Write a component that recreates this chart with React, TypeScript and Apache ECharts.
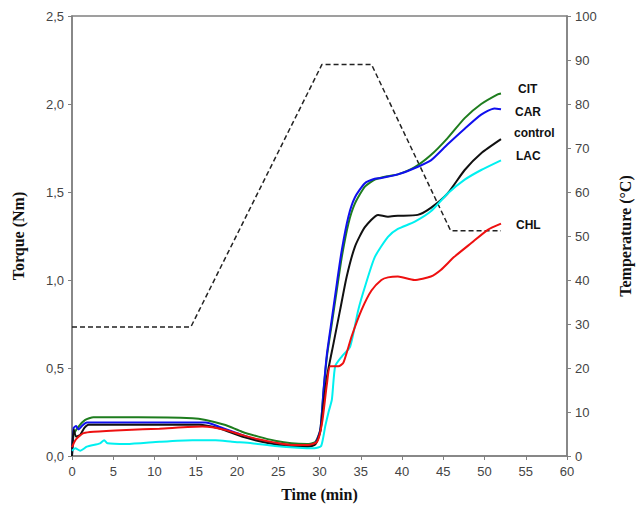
import React, { useEffect, useRef } from "react";
import * as echarts from "echarts";

// [time (min), torque (Nm)]
const CIT: [number, number][] = [
  [0, 0], [0.2, 0.12], [0.8, 0.167], [1.6, 0.205], [2.6, 0.22], [8, 0.22], [14.6, 0.215],
  [16.2, 0.205], [18.6, 0.176], [20.6, 0.138], [22.6, 0.11], [24.6, 0.087], [26.6, 0.072],
  [28.5, 0.068], [29.5, 0.08], [30.1, 0.15], [30.5, 0.375], [30.9, 0.565], [31.5, 0.754],
  [32.1, 0.943], [32.7, 1.13], [33.5, 1.32], [34.3, 1.435], [35.5, 1.53], [36.7, 1.57],
  [38.3, 1.59], [39.5, 1.6], [41.5, 1.64], [43.5, 1.71], [45.5, 1.805], [47.6, 1.92],
  [49.6, 2.0], [51.6, 2.055], [52, 2.06],
];
const CAR: [number, number][] = [
  [0, 0], [0.2, 0.16], [0.5, 0.17], [0.8, 0.15], [1.2, 0.17], [1.8, 0.19], [8, 0.19],
  [16.2, 0.19], [17.8, 0.167], [20.6, 0.12], [22.6, 0.09], [24.6, 0.072], [26.6, 0.059],
  [28.3, 0.057], [29.5, 0.074], [30.1, 0.15], [30.5, 0.38], [30.9, 0.58], [31.5, 0.78],
  [32.1, 0.98], [32.7, 1.17], [33.5, 1.36], [34.3, 1.47], [35.5, 1.55], [36.7, 1.575],
  [37.5, 1.58], [39.5, 1.6], [41.5, 1.635], [43.5, 1.68], [45.5, 1.77], [47.6, 1.86],
  [49.6, 1.94], [51.2, 1.975], [52, 1.97],
];
const CONTROL: [number, number][] = [
  [0, 0], [0.2, 0.15], [0.5, 0.11], [1.0, 0.12], [1.5, 0.16], [2.0, 0.178], [15.4, 0.178],
  [17.8, 0.157], [20.6, 0.11], [22.6, 0.085], [24.6, 0.066], [26.6, 0.053], [28.6, 0.053],
  [29.5, 0.066], [30.1, 0.14], [30.5, 0.3], [30.9, 0.45], [31.7, 0.64], [32.5, 0.83],
  [33.3, 1.02], [34.3, 1.19], [35.5, 1.3], [37.1, 1.37], [38.3, 1.36], [39.5, 1.365],
  [41.9, 1.37], [43.5, 1.41], [45.5, 1.49], [47.6, 1.625], [49.6, 1.72], [52, 1.8],
];
const LAC: [number, number][] = [
  [0, 0.03], [0.4, 0.044], [1.0, 0.03], [1.8, 0.053], [3.4, 0.072], [3.9, 0.09], [4.3, 0.072],
  [6.6, 0.068], [10.6, 0.081], [14.6, 0.09], [17.4, 0.09], [19.4, 0.081], [21.8, 0.072],
  [24.6, 0.057], [27.4, 0.047], [29.4, 0.044], [30.2, 0.057], [30.7, 0.17], [31.1, 0.25],
  [31.5, 0.32], [31.9, 0.51], [32.7, 0.565], [33.7, 0.62], [34.7, 0.83], [35.5, 0.96],
  [36.7, 1.13], [38.3, 1.245], [39.5, 1.29], [41.5, 1.33], [43.5, 1.39], [45.5, 1.49],
  [47.6, 1.57], [49.6, 1.625], [52, 1.68],
];
const CHL: [number, number][] = [
  [0, 0.05], [0.4, 0.09], [0.8, 0.11], [1.4, 0.13], [2.6, 0.138], [6.6, 0.148], [10.6, 0.155],
  [15.8, 0.167], [17, 0.163], [18.6, 0.148], [20.6, 0.12], [22.6, 0.095], [24.6, 0.076],
  [26.6, 0.0625], [28.6, 0.0625], [29.7, 0.08], [30.3, 0.185], [30.9, 0.41], [31.3, 0.51],
  [32.3, 0.51], [32.9, 0.53], [33.9, 0.68], [35.1, 0.83], [36.3, 0.94], [37.5, 1.0],
  [38.3, 1.015], [39.5, 1.02], [41.5, 1.0], [43.5, 1.02], [44.7, 1.057], [46.3, 1.13],
  [48.4, 1.21], [50.4, 1.285], [52, 1.32],
];
// [time (min), temperature (°C)]
const TEMPERATURE: [number, number][] = [
  [0, 29.3], [14.4, 29.3], [30.3, 89], [36.3, 89], [45.9, 51.2], [52, 51.2],
];

const SERIES_NAMES = ["CIT", "CAR", "control", "LAC", "CHL"];
const SERIES_DATA = [CIT, CAR, CONTROL, LAC, CHL];
const SERIES_COLORS = ["#1e7d1e", "#1010ee", "#111111", "#00f0f0", "#ee1010"];
const LABEL_OFFSETS: [number, number][] = [[9, -4], [6, 3], [5, -6], [7, -4], [7, 1]];

const X_TICKS = { min: 0, max: 60, interval: 5 };
const TORQUE_TICKS = { min: 0, max: 2.5, interval: 0.5 };
const TEMP_TICKS = { min: 0, max: 100, interval: 10 };

export default function App() {
  const ref = useRef<HTMLDivElement>(null);
  useEffect(() => {
    if (!ref.current) return;
    const chart = echarts.init(ref.current, null, { renderer: "svg" });
    const axisLabel = { color: "#444", fontFamily: "Liberation Sans, Arial, sans-serif", fontSize: 13 };
    const axisLine = { show: true, lineStyle: { color: "#808080", width: 1.5 } };
    const axisTick = { show: true, length: 4, lineStyle: { color: "#808080" } };
    const nameStyle = {
      fontFamily: "Liberation Serif, Times New Roman, serif",
      fontWeight: "bold" as const,
      fontSize: 16,
      color: "#111",
    };
    chart.setOption({
      animation: false,
      backgroundColor: "#fff",
      grid: {
        left: 72, right: 71, top: 16, bottom: 55,
        show: true, borderColor: "#808080", borderWidth: 1.5,
      },
      xAxis: {
        type: "value", ...X_TICKS,
        name: "Time (min)", nameLocation: "middle", nameGap: 30, nameTextStyle: nameStyle,
        axisLine, axisTick, axisLabel: { ...axisLabel, margin: 9 }, splitLine: { show: false },
      },
      yAxis: [
        {
          type: "value", ...TORQUE_TICKS, position: "left",
          name: "Torque (Nm)", nameLocation: "middle", nameGap: 46, nameTextStyle: nameStyle,
          axisLine, axisTick,
          axisLabel: { ...axisLabel, margin: 8, formatter: (v: number) => v.toFixed(1).replace(".", ",") },
          splitLine: { show: false },
        },
        {
          type: "value", ...TEMP_TICKS, position: "right",
          name: "Temperature (°C)", nameLocation: "middle", nameGap: 50, nameRotate: 90,
          nameTextStyle: nameStyle,
          axisLine, axisTick, axisLabel: { ...axisLabel, margin: 8 }, splitLine: { show: false },
        },
      ],
      series: [
        {
          name: "Temperature", type: "line", yAxisIndex: 1, data: TEMPERATURE,
          symbol: "none", lineStyle: { color: "#222", width: 1.5, type: [5, 3] }, z: 1,
        },
        ...SERIES_NAMES.map((name, i) => ({
          name, type: "line", yAxisIndex: 0, data: SERIES_DATA[i],
          symbol: "none", smooth: 0.2,
          lineStyle: { color: SERIES_COLORS[i], width: 2 },
          endLabel: {
            show: true, formatter: name, offset: LABEL_OFFSETS[i],
            fontFamily: "Liberation Sans, Arial, sans-serif", fontWeight: "bold", fontSize: 12, color: "#111",
          },
          z: 2,
        })),
      ],
    });
    return () => chart.dispose();
  }, []);
  return <div ref={ref} style={{ width: 641, height: 511, position: "absolute", left: 0, top: 0 }} />;
}
